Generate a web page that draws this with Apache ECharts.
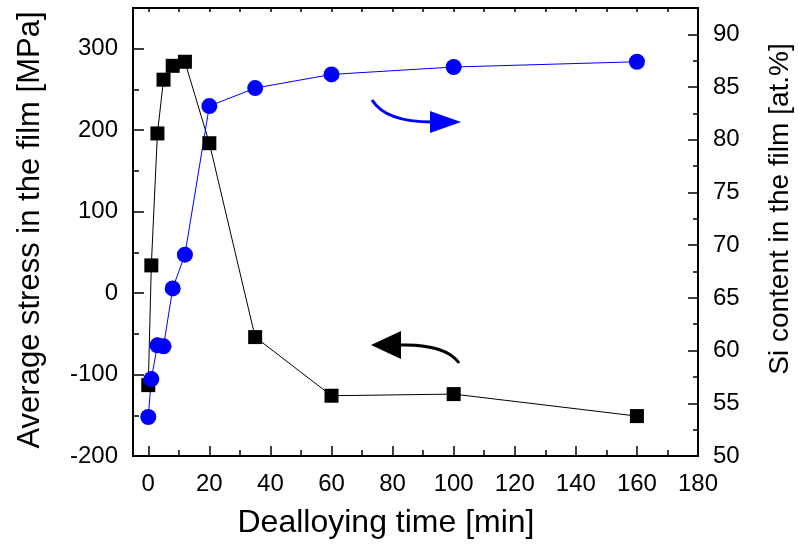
<!DOCTYPE html>
<html>
<head>
<meta charset="utf-8">
<title>Stress and Si content vs dealloying time</title>
<script src="https://cdn.jsdelivr.net/npm/echarts@6/dist/echarts.min.js"></script>
<style>
  html, body { margin: 0; padding: 0; background: #fff; }
  #chart { width: 798px; height: 548px; }
</style>
</head>
<body>
<div id="chart"></div>
<script>
// dealloying time [min]
const times = [0, 1, 3, 5, 8, 12, 20, 35, 60, 100, 160]
// average stress [MPa] (left axis)
const stress = [-113, 34, 196, 262, 279, 284, 184, -54, -126, -124, -151]
// Si content [at.%] (right axis)
const siContent = [53.7, 57.3, 60.5, 60.4, 65.9, 69.1, 83.2, 84.9, 86.2, 86.9, 87.4]

const xMajor = [0, 20, 40, 60, 80, 100, 120, 140, 160, 180]
const xMinor = [10, 30, 50, 70, 90, 110, 130, 150, 170]
const xTop = [0, 10, 20, 30, 40, 50, 60, 70, 80, 90, 100, 110, 120, 130, 140, 150, 160, 170, 180]
const leftMajor = [-200, -100, 0, 100, 200, 300]
const leftMinor = [-150, -50, 50, 150, 250]
const rightMajor = [50, 55, 60, 65, 70, 75, 80, 85, 90]
const rightMinor = [52.5, 57.5, 62.5, 67.5, 72.5, 77.5, 82.5, 87.5]

const FONT = 'Liberation Sans, Arial, sans-serif'
const lineStyle = { color: '#000', width: 2 }

function xAxis (position, ticks, len, labels) {
  return {
    type: 'value',
    position: position,
    min: -5,
    max: 180,
    axisLine: { show: true, onZero: false, lineStyle: lineStyle },
    axisTick: { show: true, inside: true, length: len, customValues: ticks, lineStyle: { color: '#000', width: 1.5 } },
    axisLabel: labels
      ? { show: true, customValues: labels, margin: 16, color: '#000', fontSize: 24, fontFamily: FONT }
      : { show: false },
    splitLine: { show: false }
  }
}

function yAxis (position, min, max, ticks, len, labels) {
  return {
    type: 'value',
    position: position,
    min: min,
    max: max,
    axisLine: { show: true, onZero: false, lineStyle: lineStyle },
    axisTick: { show: true, inside: true, length: len, customValues: ticks, lineStyle: { color: '#000', width: 1.5 } },
    axisLabel: labels
      ? { show: true, customValues: labels, margin: 15, color: '#000', fontSize: 24, fontFamily: FONT }
      : { show: false },
    splitLine: { show: false }
  }
}

const myChart = echarts.init(document.getElementById('chart'))

const option = {
  animation: false,
  backgroundColor: '#fff',
  grid: { left: 133, right: 100, top: 8, bottom: 92 },
  xAxis: [
    xAxis('bottom', xMajor, 10, xMajor),
    xAxis('bottom', xMinor, 6, null),
    xAxis('top', xTop, 4, null)
  ],
  yAxis: [
    yAxis('left', -200, 350, leftMajor, 11, leftMajor),
    yAxis('left', -200, 350, leftMinor, 6, null),
    yAxis('right', 50, 92.5, rightMajor, 10, rightMajor),
    yAxis('right', 50, 92.5, rightMinor, 5, null)
  ],
  series: [
    {
      name: 'stress',
      type: 'line',
      xAxisIndex: 0,
      yAxisIndex: 0,
      data: times.map((t, i) => [t, stress[i]]),
      symbol: 'rect',
      symbolSize: 14,
      itemStyle: { color: '#000' },
      lineStyle: { color: '#000', width: 1 }
    },
    {
      name: 'si',
      type: 'line',
      xAxisIndex: 0,
      yAxisIndex: 2,
      data: times.map((t, i) => [t, siContent[i]]),
      symbol: 'circle',
      symbolSize: 16,
      itemStyle: { color: '#0000ff' },
      lineStyle: { color: '#0000ff', width: 1 }
    }
  ],
  graphic: [
    // axis titles
    {
      type: 'text', x: 30, y: 230, rotation: Math.PI / 2,
      style: { text: 'Average stress in the film [MPa]', font: '31px ' + FONT, fill: '#000', align: 'center', verticalAlign: 'middle' }
    },
    {
      type: 'text', x: 780, y: 209, rotation: Math.PI / 2,
      style: { text: 'Si content in the film [at.%]', font: '28px ' + FONT, fill: '#000', align: 'center', verticalAlign: 'middle' }
    },
    {
      type: 'text', x: 386, y: 523,
      style: { text: 'Dealloying time [min]', font: '32px ' + FONT, fill: '#000', align: 'center', verticalAlign: 'middle' }
    },
    // blue arrow -> right axis
    {
      type: 'bezierCurve',
      shape: { x1: 372, y1: 100, cpx1: 382, cpy1: 116, cpx2: 405, cpy2: 122, x2: 432, y2: 122 },
      style: { stroke: '#0000ff', lineWidth: 3, fill: null }
    },
    {
      type: 'polygon',
      shape: { points: [[430, 111], [461, 122], [430, 133]] },
      style: { fill: '#0000ff' }
    },
    // black arrow -> left axis
    {
      type: 'bezierCurve',
      shape: { x1: 399, y1: 345, cpx1: 428, cpy1: 344, cpx2: 450, cpy2: 350, x2: 459, y2: 363 },
      style: { stroke: '#000', lineWidth: 3, fill: null }
    },
    {
      type: 'polygon',
      shape: { points: [[371, 345], [401, 331], [401, 359]] },
      style: { fill: '#000' }
    }
  ]
}

myChart.setOption(option)
</script>
</body>
</html>
